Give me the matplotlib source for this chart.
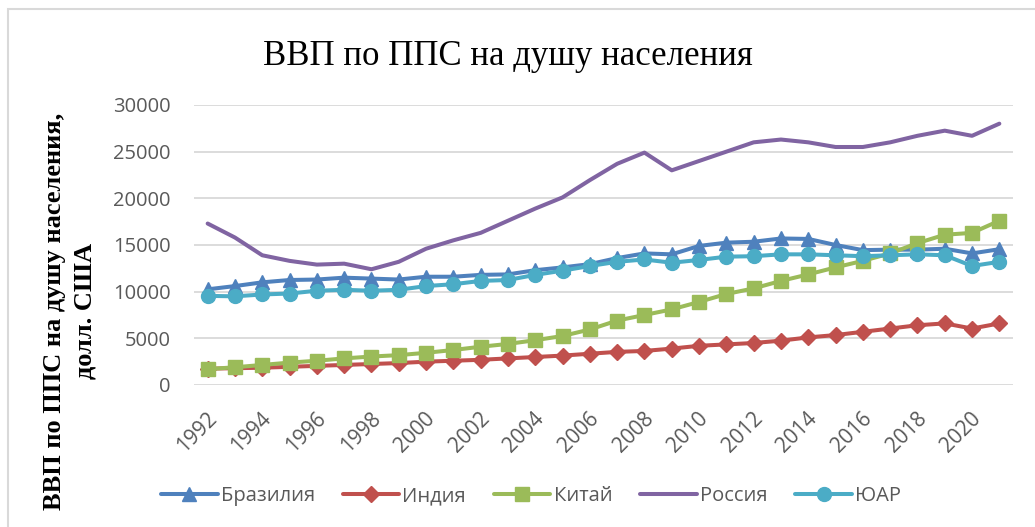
import numpy as np
import matplotlib
matplotlib.use("Agg")
import matplotlib.pyplot as plt
from matplotlib.patches import Rectangle
from matplotlib.transforms import ScaledTranslation

years = list(range(1992, 2022))
brazil = [10250, 10600, 11000, 11250, 11300, 11500, 11400, 11300, 11600, 11600,
          11800, 11850, 12300, 12600, 12950, 13600, 14100, 14000, 14900, 15250,
          15350, 15700, 15650, 15000, 14450, 14500, 14500, 14600, 14100, 14550]
india = [1750, 1800, 1850, 1950, 2050, 2150, 2250, 2350, 2500, 2600,
         2700, 2850, 3000, 3150, 3350, 3550, 3650, 3900, 4200, 4350,
         4500, 4750, 5100, 5350, 5700, 6050, 6400, 6600, 6050, 6600]
china = [1700, 1900, 2150, 2400, 2600, 2850, 3050, 3200, 3450, 3750,
         4100, 4400, 4800, 5250, 5950, 6900, 7500, 8100, 8900, 9750,
         10350, 11150, 11850, 12600, 13300, 14100, 15200, 16100, 16300, 17600]
russia = [17300, 15800, 13900, 13300, 12900, 13000, 12400, 13200, 14600, 15500,
          16300, 17600, 18900, 20100, 21950, 23700, 24900, 23000, 24000, 25000,
          26000, 26300, 26000, 25500, 25500, 26000, 26700, 27250, 26700, 28000]
sa = [9550, 9500, 9700, 9800, 10100, 10200, 10100, 10200, 10600, 10800,
      11150, 11250, 11800, 12250, 12750, 13200, 13450, 13100, 13400, 13750,
      13800, 14000, 14000, 13900, 13800, 13900, 14000, 13900, 12750, 13200]

labels = ["Бразилия", "Индия", "Китай", "Россия", "ЮАР"]
tick_years = list(range(1992, 2021, 2))

W, H = 1035, 527
fig = plt.figure(figsize=(W / 100, H / 100), dpi=100)
ax = fig.add_axes([194 / W, 1 - 385 / H, (1013 - 194) / W, (385 - 105) / H])

# series: colour, marker, marker size
styles = [
    ("#4F81BD", "^", 9.5),
    ("#C0504D", "D", 8.5),
    ("#9BBB59", "s", 10.5),
    ("#8064A2", None, 0),
    ("#4BACC6", "o", 10),
]
for vals, lab, (col, mk, ms) in zip([brazil, india, china, russia, sa], labels, styles):
    ax.plot(years, vals, color=col, lw=2.9, marker=mk, markersize=ms,
            markeredgecolor=col, label=lab, solid_capstyle="round", zorder=3)

ax.set_xlim(1991.5, 2021.5)
ax.set_ylim(0, 30000)
ax.set_yticks(range(0, 30001, 5000))
ax.grid(axis="y", color="#d9d9d9", lw=1.3)
ax.set_axisbelow(True)
for s in ax.spines.values():
    s.set_visible(False)
ax.tick_params(length=0, labelsize=14.5, labelcolor="#595959")
ax.tick_params(axis="y", pad=17)
for lbl in ax.get_yticklabels():
    lbl.set_fontfamily("Open Sans")

ax.set_xticks(tick_years)
ax.set_xticklabels([str(y) for y in tick_years], rotation=45, ha="right",
                   va="center", rotation_mode="anchor", family="Open Sans",
                   fontsize=15)
ax.tick_params(axis="x", pad=22)
off = ScaledTranslation(6 / 100, 0, fig.dpi_scale_trans)
for lbl in ax.get_xticklabels():
    lbl.set_transform(lbl.get_transform() + off)

fig.text(508 / W, 1 - 65 / H, "ВВП по ППС на душу населения",
         family="Liberation Serif", fontsize=25, ha="center", va="baseline")
fig.text(70 / W, 1 - 311 / H, "ВВП по ППС на душу населения,\nдолл. США",
         family="Liberation Serif", fontweight="bold", fontsize=19,
         rotation=90, ha="center", va="center", multialignment="center",
         linespacing=1.4)

leg = ax.legend(loc="center", bbox_to_anchor=(531 / W, 1 - 496 / H),
                bbox_transform=fig.transFigure, ncol=5, frameon=False,
                handlelength=2.8, handletextpad=0.15, columnspacing=1.4,
                prop={"family": "Open Sans", "size": 14.5})
for t in leg.get_texts():
    t.set_color("#595959")

fig.patches.append(Rectangle((8 / W, -0.1), 1.2, 1 - 9 / H + 0.1,
                             transform=fig.transFigure, fill=False,
                             edgecolor="#d9d9d9", lw=1.5))

fig.savefig("out.png", dpi=100)
